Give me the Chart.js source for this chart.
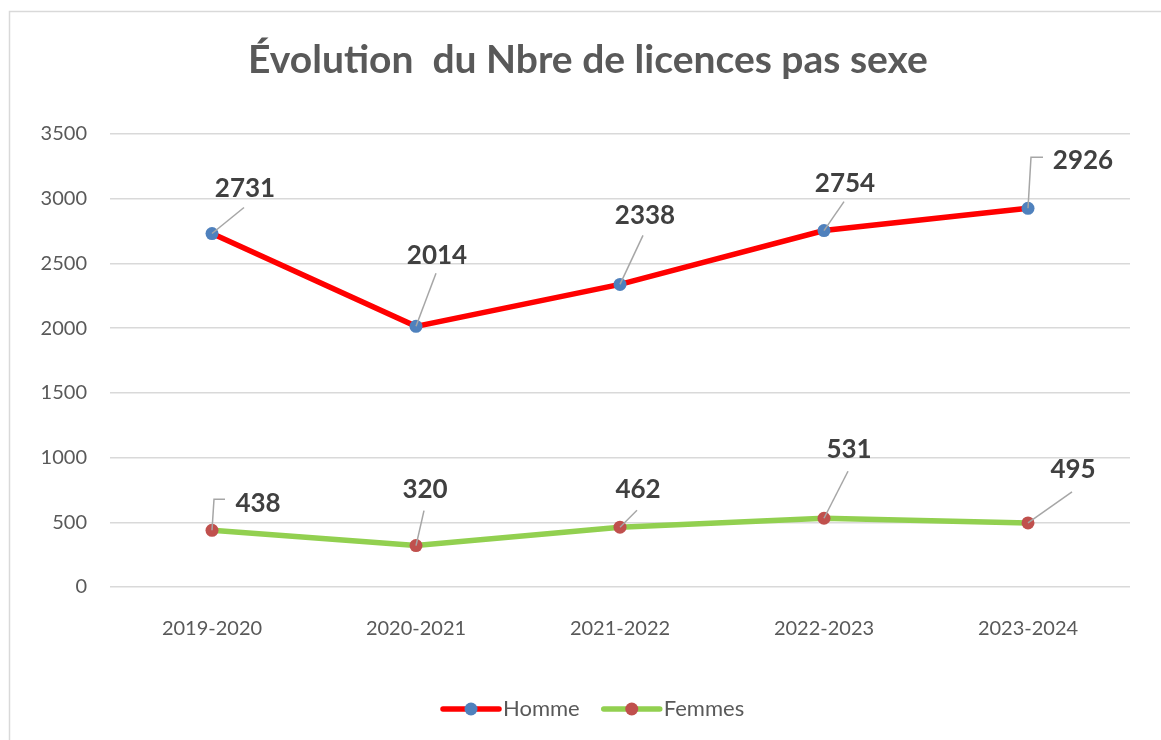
<!DOCTYPE html>
<html>
<head>
<meta charset="utf-8">
<script src="https://cdn.jsdelivr.net/npm/chart.js@4.4.1/dist/chart.umd.min.js"></script>
<style>
html, body { margin: 0; padding: 0; background: #fff; }
</style>
</head>
<body>
<canvas id="chart" width="1161" height="740"></canvas>
<script>
// données
const saisons = ['2019-2020', '2020-2021', '2021-2022', '2022-2023', '2023-2024'];
const homme = [2731, 2014, 2338, 2754, 2926];
const femmes = [438, 320, 462, 531, 495];
const yTicks = [0, 500, 1000, 1500, 2000, 2500, 3000, 3500];

// placement des étiquettes (décalage en px par rapport au point)
const labelOffsets = [
    [[33, -45], [21, -71], [25, -69], [21, -47], [55, -48]],
    [[46, -27], [9, -56], [18, -38], [25, -69], [45, -53]]
];
const leaders = [
    [[[32, -26]], [[20, -53]], [[23, -49]], [[20, -29]], [[3, -51], [15, -51]]],
    [[[2, -31], [13, -31]], [[8, -35]], [[17, -17]], [[24, -47]], [[44, -31]]]
];

const gris = '#595959';

const cadre = {
    id: 'cadre',
    afterLayout(chart) {
        // titre centré comme dans Excel, un peu à droite du centre du canvas
        if (chart.titleBlock) chart.titleBlock.left = 46;
    },
    beforeDraw(chart) {
        const ctx = chart.ctx;
        ctx.save();
        ctx.fillStyle = '#fff';
        ctx.fillRect(0, 0, chart.width, chart.height);
        ctx.strokeStyle = '#d9d9d9';
        ctx.lineWidth = 1.5;
        ctx.beginPath();
        ctx.moveTo(9.5, chart.height);
        ctx.lineTo(9.5, 11.5);
        ctx.lineTo(chart.width, 11.5);
        ctx.stroke();
        ctx.restore();
    }
};

const etiquettes = {
    id: 'etiquettes',
    afterDatasetsDraw(chart) {
        const ctx = chart.ctx;
        chart.data.datasets.forEach((ds, i) => {
            const meta = chart.getDatasetMeta(i);
            meta.data.forEach((pt, j) => {
                ctx.save();
                ctx.strokeStyle = '#a6a6a6';
                ctx.lineWidth = 1.5;
                ctx.beginPath();
                ctx.moveTo(pt.x, pt.y);
                leaders[i][j].forEach(p => ctx.lineTo(pt.x + p[0], pt.y + p[1]));
                ctx.stroke();
                const off = labelOffsets[i][j];
                ctx.font = 'bold 26px Lato';
                ctx.fillStyle = '#404040';
                ctx.textAlign = 'center';
                ctx.textBaseline = 'middle';
                ctx.fillText(String(ds.data[j]), pt.x + off[0], pt.y + off[1]);
                ctx.restore();
            });
        });
    }
};

const legende = {
    id: 'legende',
    afterDraw(chart) {
        const ctx = chart.ctx;
        const y = 709;
        let x = 443;
        ctx.save();
        ctx.font = '22px Lato';
        ctx.textBaseline = 'middle';
        chart.data.datasets.forEach(ds => {
            ctx.strokeStyle = ds.borderColor;
            ctx.lineWidth = 5.5;
            ctx.lineCap = 'round';
            ctx.beginPath();
            ctx.moveTo(x, y);
            ctx.lineTo(x + 56, y);
            ctx.stroke();
            ctx.fillStyle = ds.pointBackgroundColor;
            ctx.beginPath();
            ctx.arc(x + 28, y, 6.5, 0, Math.PI * 2);
            ctx.fill();
            ctx.fillStyle = gris;
            ctx.fillText(ds.label, x + 60, y);
            x += 60 + ctx.measureText(ds.label).width + 24;
        });
        ctx.restore();
    }
};

new Chart(document.getElementById('chart'), {
    type: 'line',
    data: {
        labels: saisons,
        datasets: [
            {
                label: 'Homme',
                data: homme,
                borderColor: '#ff0000',
                borderWidth: 5.5,
                pointBackgroundColor: '#4f81bd',
                pointBorderWidth: 0,
                pointRadius: 6.5,
                tension: 0
            },
            {
                label: 'Femmes',
                data: femmes,
                borderColor: '#92d050',
                borderWidth: 5.5,
                pointBackgroundColor: '#c0504d',
                pointBorderWidth: 0,
                pointRadius: 6.5,
                tension: 0
            }
        ]
    },
    options: {
        responsive: false,
        animation: false,
        events: [],
        layout: { padding: { top: 0, left: 0, right: 31, bottom: 0 } },
        plugins: {
            legend: { display: false },
            tooltip: { enabled: false },
            title: {
                display: true,
                text: 'Évolution  du Nbre de licences pas sexe',
                color: gris,
                font: { family: 'Lato', size: 39, weight: 'bold', lineHeight: 1.2 },
                padding: { top: 37, bottom: 50.2 }
            }
        },
        scales: {
            x: {
                offset: true,
                grid: { display: false },
                border: { display: false },
                ticks: { color: gris, font: { family: 'Lato', size: 20 }, padding: 22 },
                afterFit(scale) { scale.height = 153; }
            },
            y: {
                min: 0,
                max: 3500,
                afterBuildTicks(scale) { scale.ticks = yTicks.map(v => ({ value: v })); },
                grid: { color: '#d9d9d9', lineWidth: 1.5, drawTicks: false },
                border: { display: false },
                ticks: {
                    color: gris,
                    font: { family: 'Lato', size: 20 },
                    padding: 23,
                    callback: value => String(value)
                },
                afterFit(scale) { scale.width = 110; }
            }
        }
    },
    plugins: [cadre, etiquettes, legende]
});
</script>
</body>
</html>
